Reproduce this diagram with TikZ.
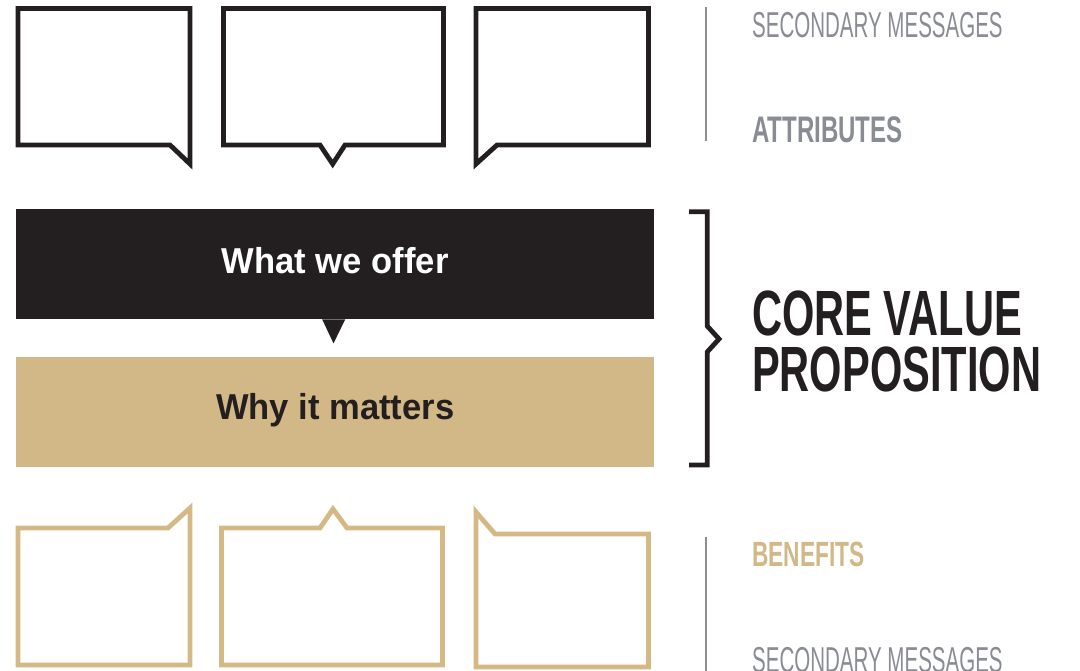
\documentclass[tikz,border=0pt]{standalone}
\usepackage{fontspec}
\usepackage{tikz}
\usetikzlibrary{positioning}

\definecolor{inkblack}{HTML}{231F20}
\definecolor{gold}{HTML}{D2B886}
\definecolor{goldline}{HTML}{D4B985}
\definecolor{greytext}{HTML}{8A8C94}
\definecolor{rulegrey}{HTML}{8E8E8E}

\newfontfamily\condlight[FakeStretch=0.57]{Liberation Sans}
\newfontfamily\condbold[FakeStretch=0.65]{Liberation Sans}
\newfontfamily\boxfont[FakeStretch=0.96]{Liberation Sans}

\tikzset{
  bubble/.style={line width=4.8pt, line join=miter, miter limit=10},
  topbubble/.style={bubble, draw=inkblack},
  lowbubble/.style={bubble, draw=goldline},
  bar/.style={inner sep=0pt, anchor=north west, minimum width=638pt, minimum height=110pt,
    text height=26pt, font=\boxfont\bfseries\fontsize{36}{40}\selectfont},
  sidetext/.style={anchor=base west, inner sep=0pt},
  sidelight/.style={sidetext, text=greytext, font=\condlight\fontsize{36}{40}\selectfont},
  sidebold/.style={sidetext, font=\condbold\bfseries\fontsize{37}{40}\selectfont},
}

\begin{document}
\begin{tikzpicture}[x=1pt, y=-1pt]
    \useasboundingbox (0,0) rectangle (1080,671);

    % attributes: black speech bubbles
    \draw[topbubble] (18,8.5) -- (190,8.5) -- (190,164) -- (170,145) -- (18,145) -- cycle;
    \draw[topbubble] (223.5,8.5) -- (443.5,8.5) -- (443.5,145) -- (345,145) -- (332.7,164)
        -- (320,145) -- (223.5,145) -- cycle;
    \draw[topbubble] (476,8.5) -- (648.5,8.5) -- (648.5,145) -- (497,145) -- (476,164) -- cycle;

    % benefits: gold speech bubbles
    \draw[lowbubble] (18,528) -- (168,528) -- (190,508) -- (190,665) -- (18,665) -- cycle;
    \draw[lowbubble] (221.5,528) -- (320,528) -- (333,509) -- (347,528) -- (442.5,528)
        -- (442.5,665) -- (221.5,665) -- cycle;
    \draw[lowbubble] (476,512) -- (495,534) -- (648.5,534) -- (648.5,667) -- (476,667) -- cycle;

    % core value proposition
    \node (offer) [bar, fill=inkblack, text=white, text depth=8pt] at (16,209) {What we offer};
    \node (matters) [bar, fill=gold, text=inkblack, text depth=12pt] at (16,357) {Why it matters};
    \fill[inkblack] ([xshift=-13pt]offer.south) -- ([xshift=10pt]offer.south)
        -- ([xshift=-1.7pt, yshift=-24pt]offer.south) -- cycle;

    % bracket
    \coordinate (bt) at (689,211.7);
    \coordinate (bb) at (689,465);
    \draw[inkblack, line width=4.8pt, line join=miter] (bt) -- (707.2,211.7) -- (707.2,326)
        -- (719,339) -- (707.2,352) -- (707.2,465) -- (bb);

    \foreach \ya/\yb in {7/141, 537/671}
        \draw[rulegrey, line width=1.2pt] (706,\ya) -- (706,\yb);

    % labels on the right
    \node (sectop) [sidelight] at (752,38) {SECONDARY MESSAGES};
    \node (attr) [sidebold, text=greytext] at (752,143) {ATTRIBUTES};
    \node (core) [sidetext, text=inkblack, font=\condbold\bfseries\fontsize{64}{64}\selectfont]
        at (752,336) {CORE VALUE};
    \node (prop) [sidetext, text=inkblack, font=\condbold\bfseries\fontsize{64}{64}\selectfont]
        at (752,391) {PROPOSITION};
    \node (bene) [sidebold, text=gold, font=\condbold\bfseries\fontsize{35}{40}\selectfont]
        at (752,566) {BENEFITS};
    \node (secbot) [sidelight] at (752,672) {SECONDARY MESSAGES};
\end{tikzpicture}
\end{document}
